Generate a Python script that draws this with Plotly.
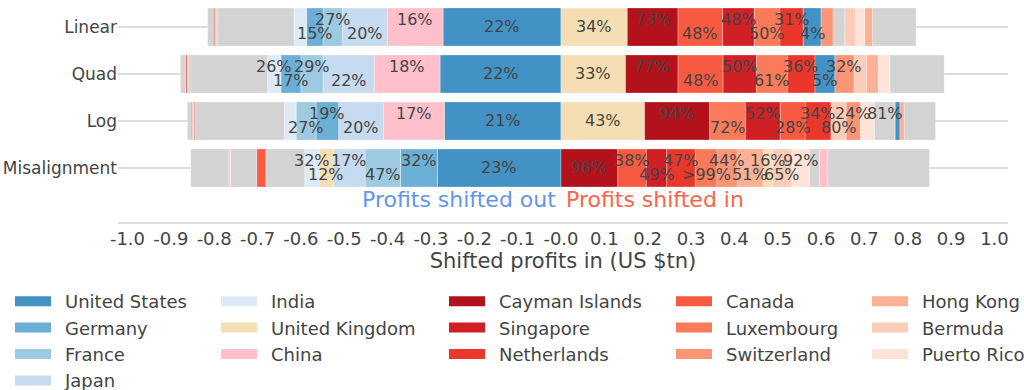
import plotly.graph_objects as go
import numpy as np

categories = ["Linear", "Quad", "Log", "Misalignment"]

# Segments listed outward from zero (shifted out = negative, shifted in = positive)
linear_out_countries = ["United States", "China", "Japan", "France", "Germany", "India", "Other", "Hong Kong", "Other", "Netherlands", "Other"]
linear_out_values = [-0.272, -0.129, -0.103, -0.045, -0.038, -0.029, -0.176, -0.003, -0.004, -0.003, -0.013]
linear_out_labels = ["22%", "16%", "20%", "27%", "15%", "", "", "", "", "", ""]
linear_in_countries = ["United Kingdom", "Cayman Islands", "Canada", "Singapore", "Luxembourg", "Netherlands", "United States", "Switzerland", "Other", "Bermuda", "Puerto Rico", "Hong Kong", "Other"]
linear_in_values = [0.153, 0.117, 0.103, 0.073, 0.059, 0.054, 0.041, 0.028, 0.027, 0.025, 0.021, 0.018, 0.100]
linear_in_labels = ["34%", "73%", "48%", "48%", "50%", "31%", "4%", "", "", "", "", "", ""]

quad_out_countries = ["United States", "China", "Japan", "France", "Germany", "India", "Other", "Hong Kong", "Other", "Netherlands", "Other"]
quad_out_values = [-0.279, -0.152, -0.118, -0.051, -0.046, -0.031, -0.179, -0.003, -0.004, -0.003, -0.012]
quad_out_labels = ["22%", "18%", "22%", "29%", "17%", "26%", "", "", "", "", ""]
quad_in_countries = ["United Kingdom", "Cayman Islands", "Canada", "Singapore", "Luxembourg", "Netherlands", "United States", "Switzerland", "Bermuda", "Hong Kong", "Puerto Rico", "Other"]
quad_in_values = [0.149, 0.121, 0.104, 0.077, 0.072, 0.063, 0.046, 0.044, 0.029, 0.027, 0.027, 0.125]
quad_in_labels = ["33%", "77%", "48%", "50%", "61%", "36%", "5%", "32%", "", "", "", ""]

log_out_countries = ["United States", "China", "Japan", "Germany", "France", "India", "Other", "Netherlands", "Other", "Netherlands", "Other"]
log_out_values = [-0.269, -0.141, -0.103, -0.052, -0.046, -0.027, -0.207, -0.002, -0.004, -0.002, -0.009]
log_out_labels = ["21%", "17%", "20%", "19%", "27%", "", "", "", "", "", ""]
log_in_countries = ["United Kingdom", "Cayman Islands", "Luxembourg", "Singapore", "Canada", "Netherlands", "Bermuda", "Switzerland", "Puerto Rico", "Other", "United States", "Hong Kong", "Other"]
log_in_values = [0.193, 0.150, 0.083, 0.080, 0.058, 0.059, 0.035, 0.033, 0.032, 0.048, 0.011, 0.010, 0.072]
log_in_labels = ["43%", "94%", "72%", "52%", "28%", "34%", "80%", "24%", "", "81%", "", "", ""]

mis_out_countries = ["United States", "Germany", "France", "Japan", "United Kingdom", "India", "Other", "Canada", "Other", "China", "Other"]
mis_out_values = [-0.285, -0.085, -0.082, -0.073, -0.033, -0.033, -0.090, -0.021, -0.060, -0.004, -0.088]
mis_out_labels = ["23%", "32%", "47%", "17%", "12%", "32%", "", "", "", "", ""]
mis_in_countries = ["Cayman Islands", "Canada", "Singapore", "Netherlands", "Luxembourg", "Switzerland", "Hong Kong", "United Kingdom", "Bermuda", "Puerto Rico", "Other", "China", "Other"]
mis_in_values = [0.131, 0.066, 0.047, 0.066, 0.050, 0.047, 0.060, 0.021, 0.045, 0.040, 0.023, 0.019, 0.235]
mis_in_labels = ["96%", "38%", "49%", "47%", ">99%", "44%", "51%", "16%", "65%", "92%", "", "", ""]

bars = {
    "Linear": [(linear_out_countries, linear_out_values, linear_out_labels),
               (linear_in_countries, linear_in_values, linear_in_labels)],
    "Quad": [(quad_out_countries, quad_out_values, quad_out_labels),
             (quad_in_countries, quad_in_values, quad_in_labels)],
    "Log": [(log_out_countries, log_out_values, log_out_labels),
            (log_in_countries, log_in_values, log_in_labels)],
    "Misalignment": [(mis_out_countries, mis_out_values, mis_out_labels),
                     (mis_in_countries, mis_in_values, mis_in_labels)],
}

colors = {
    "United States": "#4292c6", "Germany": "#6baed6", "France": "#9ecae1", "Japan": "#c6dbef",
    "India": "#deebf7", "United Kingdom": "#f5deb3", "China": "#ffc0cb",
    "Cayman Islands": "#b3121b", "Singapore": "#d11f26", "Netherlands": "#eb372b",
    "Canada": "#f85a41", "Luxembourg": "#fb7a5a", "Switzerland": "#fc9476",
    "Hong Kong": "#fcb094", "Bermuda": "#fdccb8", "Puerto Rico": "#fee4d8",
    "Other": "#d3d3d3",
}

legend_groups = [
    ["United States", "Germany", "France", "Japan"],
    ["India", "United Kingdom", "China"],
    ["Cayman Islands", "Singapore", "Netherlands"],
    ["Canada", "Luxembourg", "Switzerland"],
    ["Hong Kong", "Bermuda", "Puerto Rico"],
]

x_tick_values = [-1.0, -0.9, -0.8, -0.7, -0.6, -0.5, -0.4, -0.3, -0.2, -0.1, 0.0,
                 0.1, 0.2, 0.3, 0.4, 0.5, 0.6, 0.7, 0.8, 0.9, 1.0]
x_tick_labels = ["-1.0", "-0.9", "-0.8", "-0.7", "-0.6", "-0.5", "-0.4", "-0.3", "-0.2", "-0.1", "-0.0",
                 "0.1", "0.2", "0.3", "0.4", "0.5", "0.6", "0.7", "0.8", "0.9", "1.0"]

FONT = "DejaVu Sans"
W, H = 1024, 390
fig = go.Figure()
annotations = []

for cat in categories:
    for countries, values, labels in bars[cat]:
        vals = np.array(values)
        ends = np.cumsum(vals)
        starts = ends - vals
        centers = (starts + ends) / 2
        for i, (c, v, lab) in enumerate(zip(countries, values, labels)):
            fig.add_trace(go.Bar(
                y=[cat], x=[v], orientation="h", name=c,
                marker=dict(color=colors[c], line=dict(color="rgba(255,255,255,0.6)", width=0.5)),
                showlegend=False, hoverinfo="name+x",
            ))
            if lab:
                shift = 0 if i == 0 else (7 if i % 2 == 1 else -7)
                annotations.append(dict(
                    x=centers[i], y=cat, xref="x", yref="y", text=lab, showarrow=False,
                    yshift=shift, font=dict(family=FONT, size=16, color="#444"),
                ))

# legend entries: one vertical legend per column group
legend_x_px = [10, 216, 444, 671, 867]
legend_layouts = {}
for g, members in enumerate(legend_groups):
    lname = "legend" if g == 0 else f"legend{g + 1}"
    for c in members:
        fig.add_trace(go.Scatter(
            x=[None], y=[None], mode="lines", name=c, legend=lname,
            line=dict(color=colors[c], width=13, dash="36px,60px"), showlegend=True,
        ))
    legend_layouts[lname] = dict(
        orientation="v", xref="container", yref="container",
        x=legend_x_px[g] / W, y=0.2744, xanchor="left", yanchor="top",
        font=dict(size=18), itemwidth=45, bgcolor="rgba(0,0,0,0)",
    )

annotations.append(dict(x=0, y=0, xref="x", yref="paper", yanchor="bottom", xanchor="right", xshift=-3, yshift=8,
                        text="Profits shifted out", showarrow=False,
                        font=dict(family=FONT, size=22, color="#6495ed")))
annotations.append(dict(x=0, y=0, xref="x", yref="paper", yanchor="bottom", xanchor="left", xshift=3, yshift=8,
                        text="Profits shifted in", showarrow=False,
                        font=dict(family=FONT, size=22, color="#ff6347")))

fig.update_layout(
    width=W, height=H,
    barmode="relative", bargap=0.19,
    plot_bgcolor="white", paper_bgcolor="white",
    margin=dict(l=118, r=16, t=8, b=168, autoexpand=False),
    font=dict(family=FONT, size=16, color="#444"),
    annotations=annotations,
    showlegend=True,
    xaxis=dict(range=[-1.0219, 1.0312], tickvals=x_tick_values, ticktext=x_tick_labels, automargin=False,
               showgrid=False, zeroline=False, showline=True, linecolor="#dcdcdc", linewidth=1.5,
               tickfont=dict(size=18), title=dict(text="Shifted profits in (US $tn)", font=dict(size=21), standoff=4)),
    yaxis=dict(type="category", categoryorder="array", categoryarray=categories, automargin=False,
               range=[4.149, -0.404], showgrid=True, gridcolor="#dcdcdc", gridwidth=1.5,
               zeroline=False, tickfont=dict(size=17)),
    **legend_layouts,
)

fig.write_html("out.html", config={"displayModeBar": False},
               post_script="document.body.style.margin='0px';")
